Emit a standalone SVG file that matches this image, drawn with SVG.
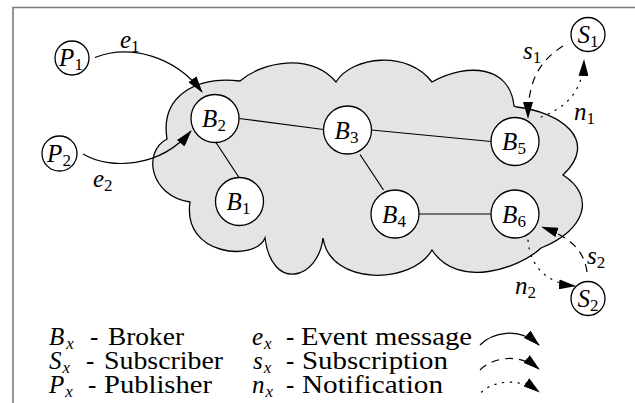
<svg xmlns="http://www.w3.org/2000/svg" width="635" height="403" viewBox="0 0 635 403" font-family="'Liberation Serif', 'DejaVu Serif', serif" font-size="25">
<style>
.t{font-family:'Liberation Serif','DejaVu Serif',serif;font-size:25px;fill:#000}
.i{font-style:italic}
.sub{font-size:17px}
.node circle{fill:#fff;stroke:#000;stroke-width:1.3}
.edge{fill:none;stroke:#000;stroke-width:1.2}
.arr{fill:none;stroke:#000;stroke-width:1.2;marker-end:url(#ah)}
.dash{stroke-dasharray:8 6}
.dot{stroke-dasharray:1.3 6.5;stroke-linecap:round}
</style>
<defs>
<marker id="ah" viewBox="0 0 17 10" markerWidth="17" markerHeight="10" refX="16" refY="5" orient="auto" markerUnits="userSpaceOnUse">
<path d="M0,0 L17,5 L0,10 z" fill="#000"/>
</marker>
</defs>
<rect x="0" y="0" width="635" height="403" fill="#fff"/>
<path d="M13,403 L13,7.5 L635,7.5" fill="none" stroke="#7a7a7a" stroke-width="1.6"/>
<path id="cloud" d="M240,81 C262,62 310,52 336,82 C352,56 408,50 432,82 C468,62 510,66 514,106 L517,107 C560,112 600,140 563,175 C596,196 586,230 541,248 C520,268 458,290 432,250 C412,285 330,286 323,238 C318,280 272,292 265,238 C255,262 182,256 190,202 C150,196 142,152 167,139 C160,96 196,76 240,81 Z" fill="#e4e4e7" stroke="#000" stroke-width="1.3"/>
<g id="connectors">
<line class="edge" x1="239" y1="118.5" x2="323.5" y2="129.5"/>
<line class="edge" x1="216" y1="142.5" x2="239" y2="177.5"/>
<line class="edge" x1="371.5" y1="130" x2="491" y2="141.5"/>
<line class="edge" x1="360" y1="154.5" x2="383.5" y2="190"/>
<line class="edge" x1="419" y1="214" x2="491" y2="214"/>
<path class="arr" d="M95,57.5 C130,44 175,56 202,92"/>
<path class="arr" d="M83,154 C110,170 160,168 191,131"/>
<path class="arr dash" d="M563,46 C538,62 528,82 528,118"/>
<path class="arr dot" d="M541,117 C565,108 583,92 584,60"/>
<path class="arr dash" d="M587,272 C584,250 570,237 542,227"/>
<path class="arr dot" d="M528,240 C530,266 546,283 575,286"/>
<path class="arr" d="M480,345 C492,333 518,326 539,345"/>
<path class="arr dash" d="M480,370 C492,358 518,352 539,369"/>
<path class="arr dot" d="M481.5,392 C492,382 518,376 539,392"/>
</g>
<g id="labels">
<text class="t" x="120" y="47.5"><tspan class="i">e</tspan><tspan class="sub" dy="4">1</tspan></text>
<text class="t" x="93" y="186.5"><tspan class="i">e</tspan><tspan class="sub" dy="4">2</tspan></text>
<text class="t" x="523" y="58.5"><tspan class="i">s</tspan><tspan class="sub" dy="4">1</tspan></text>
<text class="t" x="574" y="120"><tspan class="i">n</tspan><tspan class="sub" dy="4">1</tspan></text>
<text class="t" x="587" y="263.5"><tspan class="i">s</tspan><tspan class="sub" dy="4">2</tspan></text>
<text class="t" x="515" y="293.5"><tspan class="i">n</tspan><tspan class="sub" dy="4">2</tspan></text>
</g>
<g id="P1" class="node"><circle cx="72" cy="58" r="17"/><text class="t" x="71" y="66" text-anchor="middle"><tspan class="i">P</tspan><tspan class="sub" dy="4">1</tspan></text></g>
<g id="P2" class="node"><circle cx="59.5" cy="153.5" r="17.5"/><text class="t" x="59" y="161.5" text-anchor="middle"><tspan class="i">P</tspan><tspan class="sub" dy="4">2</tspan></text></g>
<g id="S1" class="node"><circle cx="588" cy="34.5" r="17"/><text class="t" x="588" y="42.5" text-anchor="middle"><tspan class="i">S</tspan><tspan class="sub" dy="4">1</tspan></text></g>
<g id="S2" class="node"><circle cx="588" cy="298.5" r="17"/><text class="t" x="588" y="306.5" text-anchor="middle"><tspan class="i">S</tspan><tspan class="sub" dy="4">2</tspan></text></g>
<g id="B2" class="node"><circle cx="215" cy="118.5" r="24"/><text class="t" x="214" y="127" text-anchor="middle"><tspan class="i">B</tspan><tspan class="sub" dy="4">2</tspan></text></g>
<g id="B1" class="node"><circle cx="239.5" cy="201.5" r="24"/><text class="t" x="238.5" y="210" text-anchor="middle"><tspan class="i">B</tspan><tspan class="sub" dy="4">1</tspan></text></g>
<g id="B3" class="node"><circle cx="347.5" cy="130" r="24"/><text class="t" x="346.5" y="138.5" text-anchor="middle"><tspan class="i">B</tspan><tspan class="sub" dy="4">3</tspan></text></g>
<g id="B4" class="node"><circle cx="395" cy="214" r="24"/><text class="t" x="394" y="222.5" text-anchor="middle"><tspan class="i">B</tspan><tspan class="sub" dy="4">4</tspan></text></g>
<g id="B5" class="node"><circle cx="515" cy="141.5" r="24"/><text class="t" x="514" y="150" text-anchor="middle"><tspan class="i">B</tspan><tspan class="sub" dy="4">5</tspan></text></g>
<g id="B6" class="node"><circle cx="515" cy="214" r="24"/><text class="t" x="514" y="222.5" text-anchor="middle"><tspan class="i">B</tspan><tspan class="sub" dy="4">6</tspan></text></g>
<g id="legend">
<text class="t" x="49" y="345"><tspan class="i">B</tspan><tspan class="i sub" dx="2" dy="4">x</tspan></text><text class="t" x="90" y="345">-</text><text class="t" x="108" y="345" textLength="76" lengthAdjust="spacingAndGlyphs">Broker</text>
<text class="t" x="49" y="369"><tspan class="i">S</tspan><tspan class="i sub" dx="1" dy="4">x</tspan></text><text class="t" x="86" y="369">-</text><text class="t" x="104" y="369" textLength="119" lengthAdjust="spacingAndGlyphs">Subscriber</text>
<text class="t" x="49" y="393"><tspan class="i">P</tspan><tspan class="i sub" dx="1" dy="4">x</tspan></text><text class="t" x="88" y="393">-</text><text class="t" x="104" y="393" textLength="108" lengthAdjust="spacingAndGlyphs">Publisher</text>
<text class="t" x="252" y="345"><tspan class="i">e</tspan><tspan class="i sub" dx="1" dy="4">x</tspan></text><text class="t" x="286" y="345">-</text><text class="t" x="301" y="345" textLength="171" lengthAdjust="spacingAndGlyphs">Event message</text>
<text class="t" x="253" y="369"><tspan class="i">s</tspan><tspan class="i sub" dx="1" dy="4">x</tspan></text><text class="t" x="286" y="369">-</text><text class="t" x="302" y="369" textLength="146" lengthAdjust="spacingAndGlyphs">Subscription</text>
<text class="t" x="252" y="393"><tspan class="i">n</tspan><tspan class="i sub" dx="1" dy="4">x</tspan></text><text class="t" x="286" y="393">-</text><text class="t" x="302" y="393" textLength="141" lengthAdjust="spacingAndGlyphs">Notification</text>
</g>
</svg>
